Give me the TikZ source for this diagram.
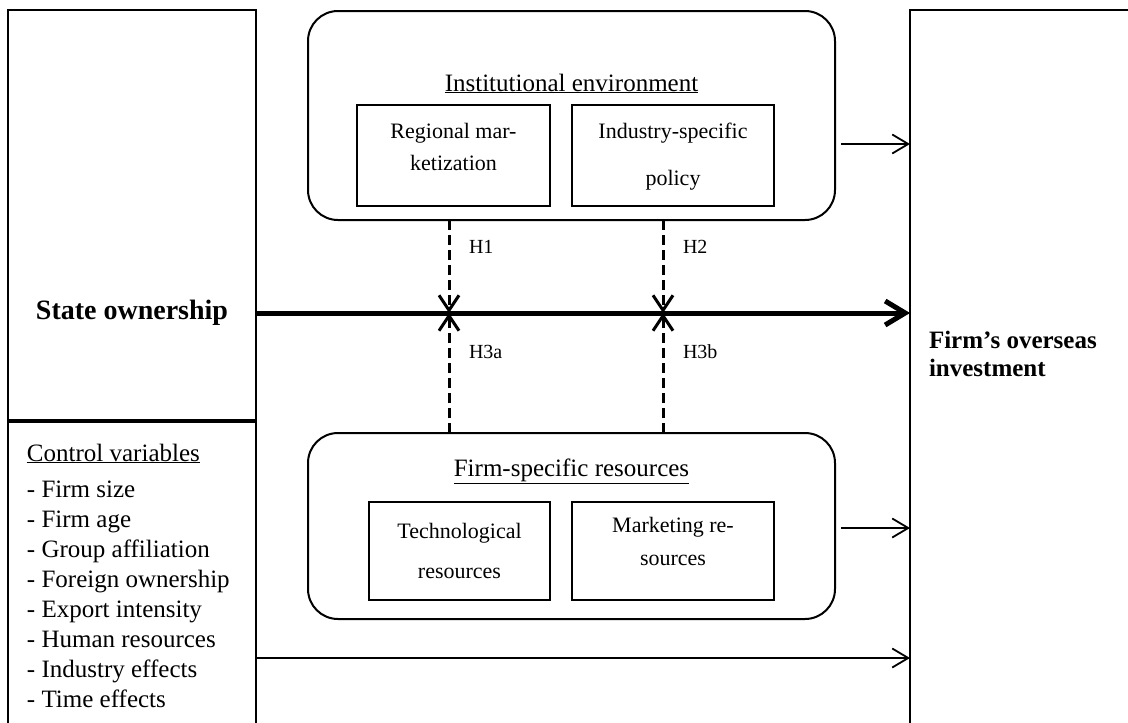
\documentclass[tikz,border=0pt]{standalone}
\usepackage{fontspec}
\setmainfont{Liberation Serif}
\usetikzlibrary{arrows.meta}
\begin{document}
\begin{tikzpicture}[x=1pt,y=-1pt,
  every node/.style={inner sep=0pt, outer sep=0pt},
  frame/.style={draw, line width=2pt},
  rbox/.style={draw, line width=2pt, rounded corners=30pt},
  ibox/.style={draw, line width=2pt},
  big/.style={font=\fontsize{25}{30}\selectfont},
  bigbf/.style={font=\fontsize{25}{28}\selectfont\bfseries, align=left},
  boxtxt/.style={font=\fontsize{22}{26}\selectfont},
  hlab/.style={font=\fontsize{20}{24}\selectfont, anchor=west},
  conn/.style={line width=1.8pt, -{Straight Barb[length=16pt, width=19pt, line width=1.8pt]}},
  mainarr/.style={line width=5pt, -{Straight Barb[length=20pt, width=24pt, line width=5pt]}},
  modarr/.style={line width=3pt, dash pattern=on 10pt off 5pt, -{Straight Barb[length=15pt, width=20pt, line width=3pt]}},
]
\useasboundingbox (0,0) rectangle (1128,723);

% left column
\node[frame, minimum width=248pt, minimum height=411pt] (soBox) at (132,215.5) {};
\node[frame, minimum width=248pt, minimum height=330pt] (ctrlBox) at (132,586) {};
\draw[line width=3.2pt] (soBox.south west) -- (soBox.south east);
\node[font=\fontsize{28}{32}\selectfont\bfseries, anchor=center] (so) at (132,313) {State ownership};

\node[big, anchor=base west] (ctrlT) at (27,461) {\underline{Control variables}};
\node[big, anchor=north west, align=left] (ctrlL) at (27,481) {- Firm size\\- Firm age\\- Group affiliation\\- Foreign ownership\\- Export intensity\\- Human resources\\- Industry effects\\- Time effects};

% right column
\node[frame, minimum width=240pt, minimum height=740pt] (foiBox) at (1030,380) {};
\node[bigbf, anchor=west] (foi) at (929,354) {Firm’s overseas\\investment};

% institutional environment
\node[rbox, minimum width=527pt, minimum height=209pt] (ieBox) at (571.5,115.5) {};
\node[big, anchor=base] (ieT) at (571.5,91) {\underline{Institutional environment}};
\node[ibox, minimum width=193pt, minimum height=101pt] (reg) at (453.5,155.5) {};
\node[boxtxt] (regT1) at (453.5,133) {Regional mar-};
\node[boxtxt] (regT2) at (453.5,163) {ketization};
\node[ibox, minimum width=202pt, minimum height=101pt] (ind) at (673,155.5) {};
\node[boxtxt] (indT1) at (673,133) {Industry-specific};
\node[boxtxt] (indT2) at (673,180) {policy};

% firm-specific resources
\node[rbox, minimum width=527pt, minimum height=186pt] (fsBox) at (571.5,526) {};
\node[big, anchor=base] (fsT) at (571.5,476) {\underline{Firm-specific resources}};
\node[ibox, minimum width=181pt, minimum height=98pt] (tech) at (459.5,551) {};
\node[boxtxt] (techT1) at (459.5,533) {Technological};
\node[boxtxt] (techT2) at (459.5,573) {resources};
\node[ibox, minimum width=202pt, minimum height=98pt] (mkt) at (673,551) {};
\node[boxtxt] (mktT1) at (673,527) {Marketing re-};
\node[boxtxt] (mktT2) at (673,560) {sources};

% coordinates
\coordinate (x1) at (449,313);
\coordinate (x2) at (663,313);
\coordinate (ieA) at (841,144);
\coordinate (fsA) at (841,528);
\coordinate (ctA) at (256,658);

% connectors
\draw[mainarr] (so.center -| soBox.east) -- (so.center -| foiBox.west);
\draw[conn] (ieA) -- (ieA -| foiBox.west);
\draw[conn] (fsA) -- (fsA -| foiBox.west);
\draw[conn] (ctA) -- (ctA -| foiBox.west);
\draw[modarr] (x1 |- ieBox.south) -- (x1);
\draw[modarr] (x2 |- ieBox.south) -- (x2);
\draw[modarr] (x1 |- fsBox.north) -- (x1);
\draw[modarr] (x2 |- fsBox.north) -- (x2);

% hypothesis labels
\node[hlab] (h1) at (469,247) {H1};
\node[hlab] (h2) at (683,247) {H2};
\node[hlab] (h3a) at (469,352) {H3a};
\node[hlab] (h3b) at (683,352) {H3b};
\end{tikzpicture}
\end{document}
